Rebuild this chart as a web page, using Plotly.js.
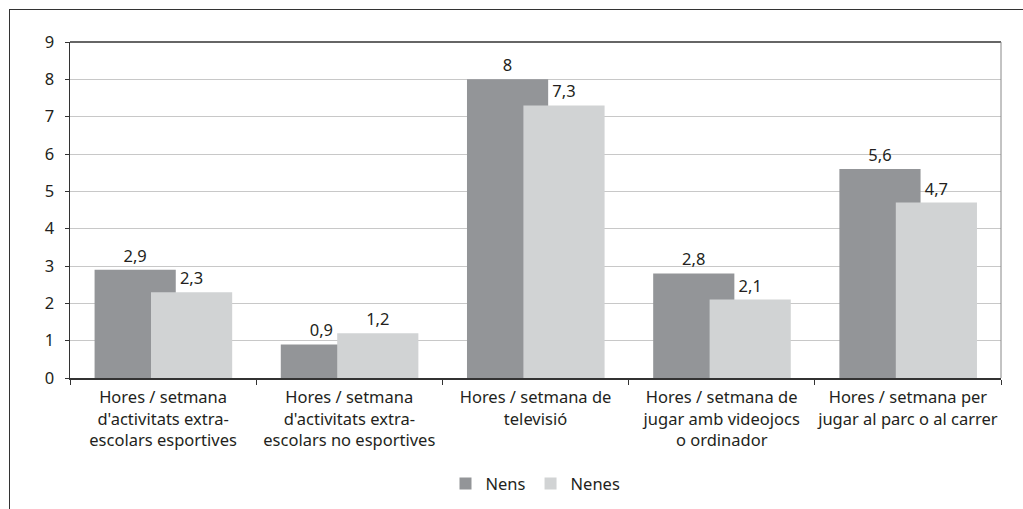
<!DOCTYPE html>
<html>
<head>
<meta charset="utf-8">
<script src="https://cdn.plot.ly/plotly-3.0.1.min.js"></script>
<style>
html,body{margin:0;padding:0;background:#fff;}
#chart{width:1023px;height:509px;position:relative;}
#frame{position:absolute;left:9px;top:9px;width:1020px;height:510px;border-top:1.5px solid #333;border-left:1.5px solid #333;pointer-events:none;}
</style>
</head>
<body>
<div id="chart"></div>
<div id="frame"></div>
<script>
const categories = [
  "Hores / setmana<br>d'activitats extra-<br>escolars esportives",
  "Hores / setmana<br>d'activitats extra-<br>escolars no esportives",
  "Hores / setmana de<br>televisió",
  "Hores / setmana de<br>jugar amb videojocs<br>o ordinador",
  "Hores / setmana per<br>jugar al parc o al carrer"
];
const nens = [2.9, 0.9, 8, 2.8, 5.6];
const nenes = [2.3, 1.2, 7.3, 2.1, 4.7];
const seriesNames = ["Nens", "Nenes"];
const yTicks = [0, 1, 2, 3, 4, 5, 6, 7, 8, 9];

const fmt = v => String(v).replace('.', ',');
const FONT = "Noto Sans, Open Sans, sans-serif";
const TXT = "#231f20";
const FS = 16.5;

const traces = [
  {
    type: 'bar', name: seriesNames[0], x: categories, y: nens,
    marker: {color: '#939598', line: {width: 0}},
    offset: -0.368, width: 0.436,
    text: nens.map(fmt), textposition: 'outside', cliponaxis: false,
    textfont: {family: FONT, size: FS, color: TXT},
    hoverinfo: 'skip'
  },
  {
    type: 'bar', name: seriesNames[1], x: categories, y: nenes,
    marker: {color: '#d1d3d4', line: {width: 0}},
    offset: -0.065, width: 0.436,
    text: nenes.map(fmt), textposition: 'outside', cliponaxis: false,
    textfont: {family: FONT, size: FS, color: TXT},
    hoverinfo: 'skip'
  }
];

const layout = {
  width: 1023, height: 509,
  margin: {l: 70, r: 22, t: 42, b: 131, pad: 0, autoexpand: false},
  paper_bgcolor: '#fff', plot_bgcolor: '#fff',
  barmode: 'overlay',
  showlegend: true,
  font: {family: FONT, size: FS, color: TXT},
  xaxis: {
    type: 'category',
    automargin: false,
    tickson: 'boundaries',
    ticks: 'outside', ticklen: 5, tickcolor: '#333', tickwidth: 1,
    ticklabelstandoff: 4,
    showline: true, linecolor: '#333', linewidth: 1.5,
    showgrid: false,
    tickfont: {family: FONT, size: FS, color: TXT},
    tickangle: 0,
    fixedrange: true
  },
  yaxis: {
    range: [0, 9],
    automargin: false,
    tickvals: yTicks,
    ticktext: yTicks.map(String),
    ticks: 'outside', ticklen: 4, tickcolor: '#333', tickwidth: 1,
    ticklabelstandoff: 7,
    showline: true, linecolor: '#333', linewidth: 1.5,
    showgrid: true, gridcolor: '#c8c8c8', gridwidth: 1,
    zeroline: false,
    tickfont: {family: FONT, size: FS, color: TXT},
    fixedrange: true
  },
  legend: {
    orientation: 'h', x: 0.5, xanchor: 'center', y: -0.315, yanchor: 'middle',
    font: {family: FONT, size: FS, color: TXT},
    itemwidth: 30, traceorder: 'normal'
  },
  shapes: [
    {type: 'line', xref: 'paper', yref: 'paper', x0: 0, x1: 1, y0: 1, y1: 1, line: {color: '#333', width: 1.5}},
    {type: 'line', xref: 'paper', yref: 'paper', x0: 1, x1: 1, y0: 0, y1: 1, line: {color: '#888', width: 1}}
  ]
};

Plotly.newPlot('chart', traces, layout, {displayModeBar: false, staticPlot: true});
</script>
</body>
</html>
